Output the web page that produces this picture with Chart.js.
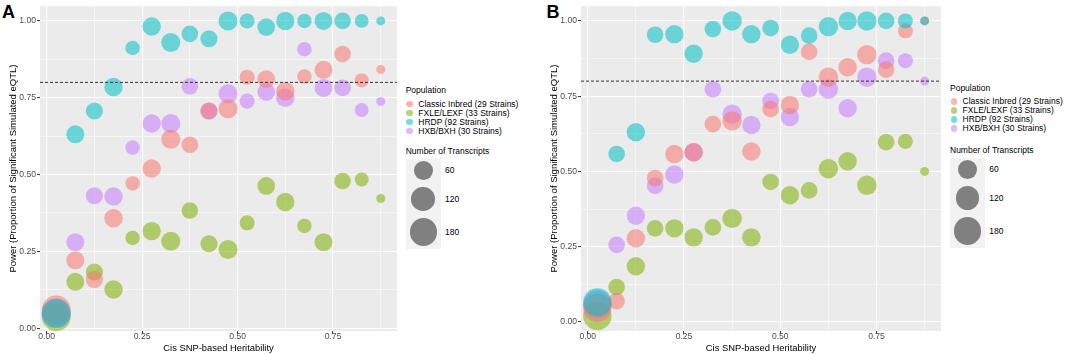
<!DOCTYPE html>
<html>
<head>
<meta charset="utf-8">
<script src="https://cdn.jsdelivr.net/npm/chart.js@4.4.1/dist/chart.umd.min.js"></script>
<style>
  body { margin: 0; width: 1065px; height: 354px; position: relative; overflow: hidden; background: #fff;
         font-family: "Liberation Sans", Arial, sans-serif; }
  canvas { position: absolute; top: 0; }
  .tag { position: absolute; font-weight: bold; font-size: 18px; line-height: 18px; color: #000; }
  .txt { position: absolute; white-space: nowrap; color: #000; font-size: 8.5px; }
  .dot { position: absolute; border-radius: 50%; }
  .keybox { position: absolute; background: #F2F2F2; }
</style>
</head>
<body>
<div class="tag" style="left:2px; top:2.7px;">A</div>
<div class="tag" style="left:546.5px; top:2.7px;">B</div>
<canvas id="chartA" width="400" height="354" style="left:0px"></canvas>
<canvas id="chartB" width="403" height="354" style="left:541px"></canvas>
<div id="legendA"></div>
<div id="legendB"></div>
<script>
// heritability bins (bin centres)
const heritBins = [0.025, 0.075, 0.125, 0.175, 0.225, 0.275, 0.325, 0.375, 0.425,
                   0.475, 0.525, 0.575, 0.625, 0.675, 0.725, 0.775, 0.825, 0.875];
const xTicks = [0, 0.25, 0.5, 0.75];
const yTicks = [0, 0.25, 0.5, 0.75, 1];
const minorTicks = [0.125, 0.375, 0.625, 0.875];
const powerThreshold = 0.8;

const populations = ["Classic Inbred (29 Strains)", "FXLE/LEXF (33 Strains)", "HRDP (92 Strains)", "HXB/BXH (30 Strains)"];
const popColors = ["#F8766D", "#7CAE00", "#00BFC4", "#C77CFF"];
// drawing order (lower = on top)
const popOrder = [1, 3, 0, 2];
const sizeBreaks = [60, 120, 180];

// Panel A
const classicA = [0.059, 0.221, 0.159, 0.358, 0.471, 0.520, 0.615, 0.597, 0.707, 0.714, 0.817, 0.811, 0.771, 0.819, 0.841, 0.892, 0.807, 0.842];
const fxleA    = [0.038, 0.151, 0.183, 0.126, 0.294, 0.316, 0.283, 0.383, 0.275, 0.256, 0.343, 0.463, 0.411, 0.333, 0.280, 0.479, 0.484, 0.422];
const hrdpA    = [0.049, 0.631, 0.707, 0.785, 0.912, 0.982, 0.930, 0.958, 0.942, 1.000, 1.000, 0.980, 1.000, 1.000, 1.000, 1.000, 1.000, 1.000];
const hxbA     = [0.049, 0.280, 0.431, 0.429, 0.588, 0.666, 0.666, 0.787, 0.707, 0.763, 0.739, 0.769, 0.750, 0.908, 0.782, 0.782, 0.710, 0.738];
const transcriptsA = [210, 52, 45, 56, 27, 56, 62, 41, 45, 62, 30, 49, 56, 27, 52, 41, 24, 12];

// Panel B
const classicB = [0.047, 0.069, 0.278, 0.478, 0.558, 0.564, 0.657, 0.668, 0.566, 0.707, 0.721, 0.897, 0.813, 0.846, 0.888, 0.838, 0.967, 1.000];
const fxleB    = [0.020, 0.116, 0.185, 0.311, 0.311, 0.281, 0.314, 0.344, 0.281, 0.465, 0.421, 0.437, 0.509, 0.534, 0.454, 0.597, 0.600, 0.500];
const hrdpB    = [0.065, 0.558, 0.630, 0.954, 0.956, 0.891, 0.973, 1.000, 0.956, 0.976, 0.921, 0.951, 0.981, 1.000, 1.000, 1.000, 1.000, 1.000];
const hxbB     = [0.058, 0.256, 0.353, 0.452, 0.490, 0.564, 0.773, 0.690, 0.654, 0.734, 0.681, 0.773, 0.773, 0.710, 0.813, 0.868, 0.868, 0.800];
const transcriptsB = [199, 41, 56, 41, 56, 56, 41, 66, 56, 41, 56, 41, 66, 56, 66, 41, 30, 12];

// ggplot-like area scale
function sizeToRadius(n) {
  return 4.5 + 0.71 * Math.sqrt(Math.max(n - 12, 0));
}

function withAlpha(hex, a) {
  const v = parseInt(hex.slice(1), 16);
  return `rgba(${(v >> 16) & 255},${(v >> 8) & 255},${v & 255},${a})`;
}

const isMajor = (v, list) => list.some(t => Math.abs(t - v) < 1e-9);

Chart.defaults.font.family = '"Liberation Sans", Arial, sans-serif';

const panelBg = {
  id: "panelBg",
  beforeDraw(chart) {
    const a = chart.chartArea, ctx = chart.ctx;
    ctx.save();
    ctx.fillStyle = "#EBEBEB";
    ctx.fillRect(a.left, a.top, a.right - a.left, a.bottom - a.top);
    ctx.restore();
  }
};

const thresholdLine = {
  id: "thresholdLine",
  afterDatasetsDraw(chart) {
    const a = chart.chartArea, ctx = chart.ctx;
    const y = chart.scales.y.getPixelForValue(powerThreshold);
    ctx.save();
    ctx.strokeStyle = "#333";
    ctx.lineWidth = 1;
    ctx.setLineDash([3, 2]);
    ctx.beginPath();
    ctx.moveTo(a.left, y);
    ctx.lineTo(a.right, y);
    ctx.stroke();
    ctx.restore();
  }
};

function axisGrid(majors) {
  return {
    color: "#FFFFFF",
    lineWidth: c => (c.tick && isMajor(c.tick.value, majors)) ? 1.1 : 0.55,
    tickLength: 3,
    tickWidth: 1,
    tickColor: c => (c.tick && isMajor(c.tick.value, majors)) ? "#333333" : "rgba(0,0,0,0)"
  };
}

function makeChart(id, series, transcripts, yMin, yMax) {
  const datasets = series.map((vals, k) => ({
    label: populations[k],
    data: heritBins.map((h, i) => ({ x: h, y: vals[i], r: sizeToRadius(transcripts[i]) })),
    backgroundColor: withAlpha(popColors[k], 0.55),
    borderWidth: 0,
    order: popOrder[k],
    clip: 0
  }));

  return new Chart(document.getElementById(id), {
    type: "bubble",
    data: { datasets },
    options: {
      responsive: false,
      animation: false,
      events: [],
      layout: { autoPadding: false, padding: { top: 5, right: 3, left: 0, bottom: 0 } },
      plugins: { legend: { display: false }, tooltip: { enabled: false } },
      scales: {
        x: {
          type: "linear",
          min: -0.0175,
          max: 0.9175,
          afterBuildTicks: ax => { ax.ticks = xTicks.concat(minorTicks).sort((a, b) => a - b).map(v => ({ value: v })); },
          afterFit: ax => { ax.height = 23; },
          grid: axisGrid(xTicks),
          border: { display: false },
          ticks: {
            autoSkip: false, maxRotation: 0, padding: -3, color: "#4D4D4D", font: { size: 8.6 },
            callback: v => isMajor(v, xTicks) ? v.toFixed(2) : ""
          },
          title: { display: true, text: "Cis SNP-based Heritability", color: "#000", font: { size: 9.4 }, padding: { top: 2.5, bottom: 0 } }
        },
        y: {
          type: "linear",
          min: yMin,
          max: yMax,
          afterBuildTicks: ax => { ax.ticks = yTicks.concat(minorTicks).sort((a, b) => a - b).map(v => ({ value: v })); },
          afterFit: ax => { ax.width = 40; },
          grid: axisGrid(yTicks),
          border: { display: false },
          ticks: {
            autoSkip: false, padding: 1, color: "#4D4D4D", font: { size: 8.6 },
            callback: v => isMajor(v, yTicks) ? v.toFixed(2) : ""
          },
          title: { display: true, text: "Power (Proportion of Significant Simulated eQTL)", color: "#000", font: { size: 9.5 }, padding: { top: 7.3, bottom: 0 } }
        }
      }
    },
    plugins: [panelBg, thresholdLine]
  });
}

makeChart("chartA", [classicA, fxleA, hrdpA, hxbA], transcriptsA, -0.009, 1.048);
makeChart("chartB", [classicB, fxleB, hrdpB, hxbB], transcriptsB, -0.030, 1.049);

// legends (ggplot style, right of each panel)
function buildLegend(el, x0, yPop, ySize) {
  let html = "";
  const txt = (x, cy, s, h = 11) =>
    `<div class="txt" style="left:${x}px; top:${cy - h / 2}px; height:${h}px; line-height:${h}px;">${s}</div>`;
  html += txt(x0, yPop, "Population");
  populations.forEach((p, k) => {
    const cy = yPop + 13.3 + 9 * k;
    html += `<div class="dot" style="left:${x0 + 0.5}px; top:${cy - 3.4}px; width:6.8px; height:6.8px; background:${withAlpha(popColors[k], 0.55)};"></div>`;
    html += txt(x0 + 12.6, cy, p);
  });
  html += txt(x0, ySize, "Number of Transcripts");
  html += `<div class="keybox" style="left:${x0}px; top:${ySize + 7.6}px; width:35.3px; height:90px;"></div>`;
  const offs = [19, 47.3, 80.3];
  sizeBreaks.forEach((b, k) => {
    const r = sizeToRadius(b);
    const cy = ySize + offs[k];
    html += `<div class="dot" style="left:${x0 + 17.6 - r}px; top:${cy - r}px; width:${2 * r}px; height:${2 * r}px; background:#808080;"></div>`;
    html += txt(x0 + 39.3, cy, String(b));
  });
  el.innerHTML = html;
}

buildLegend(document.getElementById("legendA"), 405.7, 90.7, 151.7);
buildLegend(document.getElementById("legendB"), 950, 88.5, 150.7);
</script>
</body>
</html>
